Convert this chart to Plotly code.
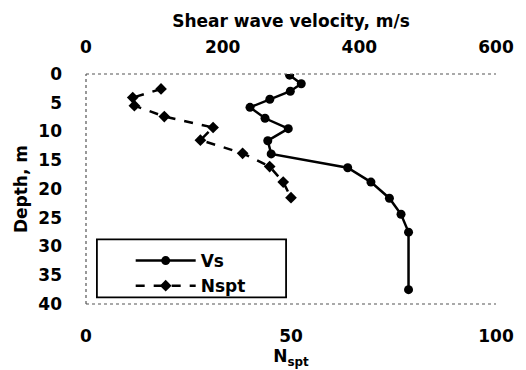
import plotly.graph_objects as go

vs_depth = [0.2, 1.7, 3.0, 4.4, 5.8, 7.7, 9.5, 11.6, 13.9, 16.3, 18.8, 21.6, 24.4, 27.5, 37.5]
vs_values = [298, 315, 299, 269, 240, 262, 296, 266, 271, 383, 417, 444, 461, 472, 472]

n_depth = [2.6, 4.1, 5.5, 7.4, 9.3, 11.5, 13.8, 16.1, 18.8, 21.5]
n_values = [18.3, 11.4, 11.8, 19.1, 31.0, 27.9, 38.2, 44.8, 48.1, 50.0]

vs_ticks = [0, 200, 400, 600]
n_ticks = [0, 50, 100]
depth_ticks = [0, 5, 10, 15, 20, 25, 30, 35, 40]

FAM = "DejaVu Sans"
TICKFONT = dict(family=FAM, size=17, color="black", weight="bold")
TITLEFONT = dict(family=FAM, size=17, color="black", weight="bold")

fig = go.Figure()
fig.add_trace(go.Scatter(
    x=vs_values, y=vs_depth, name="Vs", xaxis="x2", yaxis="y",
    mode="lines+markers",
    line=dict(color="black", width=2.5),
    marker=dict(symbol="circle", size=9, color="black"),
))
fig.add_trace(go.Scatter(
    x=n_values, y=n_depth, name="Nspt", xaxis="x", yaxis="y",
    mode="lines+markers",
    line=dict(color="black", width=2.5, dash="dash"),
    marker=dict(symbol="diamond", size=9, color="black"),
))

fig.update_layout(
    width=526, height=370,
    margin=dict(l=86, r=26, t=74, b=58),
    paper_bgcolor="white", plot_bgcolor="white",
    font=TICKFONT,
    showlegend=True,
    legend=dict(
        x=0.109, y=0.265, xanchor="left", yanchor="top",
        borderwidth=0, bgcolor="rgba(0,0,0,0)",
        font=dict(family=FAM, size=17, color="black", weight="bold"),
        itemwidth=60,
    ),
    xaxis=dict(
        range=[0, 100], tickvals=n_ticks, side="bottom",
        showgrid=False, zeroline=False, showline=False,
        ticks="", ticklabelstandoff=20, tickfont=TICKFONT,
        title=dict(text="N<sub>spt</sub>", standoff=0, font=TITLEFONT),
    ),
    xaxis2=dict(
        range=[0, 600], tickvals=vs_ticks, side="top", overlaying="x",
        showgrid=False, zeroline=False, showline=False,
        ticks="", ticklabelstandoff=17, tickfont=TICKFONT,
        title=dict(text="Shear wave velocity, m/s", standoff=4, font=TITLEFONT),
    ),
    yaxis=dict(
        range=[40, 0], tickvals=depth_ticks,
        showgrid=False, zeroline=False, showline=False,
        ticks="", ticklabelstandoff=23, tickfont=TICKFONT,
        title=dict(text="Depth, m", standoff=6, font=TITLEFONT),
    ),
)

for x0, y0, x1, y1 in [(0, 1, 1, 1), (0, 0, 0, 1), (0, 0, 1, 0)]:
    fig.add_shape(type="line", xref="paper", yref="paper",
                  x0=x0, y0=y0, x1=x1, y1=y1,
                  line=dict(color="#555555", width=1.2, dash="dot"))

# legend frame
fig.add_shape(type="rect", xref="paper", yref="paper",
              x0=0.0266, x1=0.488, y0=0.029, y1=0.281,
              line=dict(color="black", width=1.8), fillcolor="white", layer="below")

fig.write_html("out.html")
